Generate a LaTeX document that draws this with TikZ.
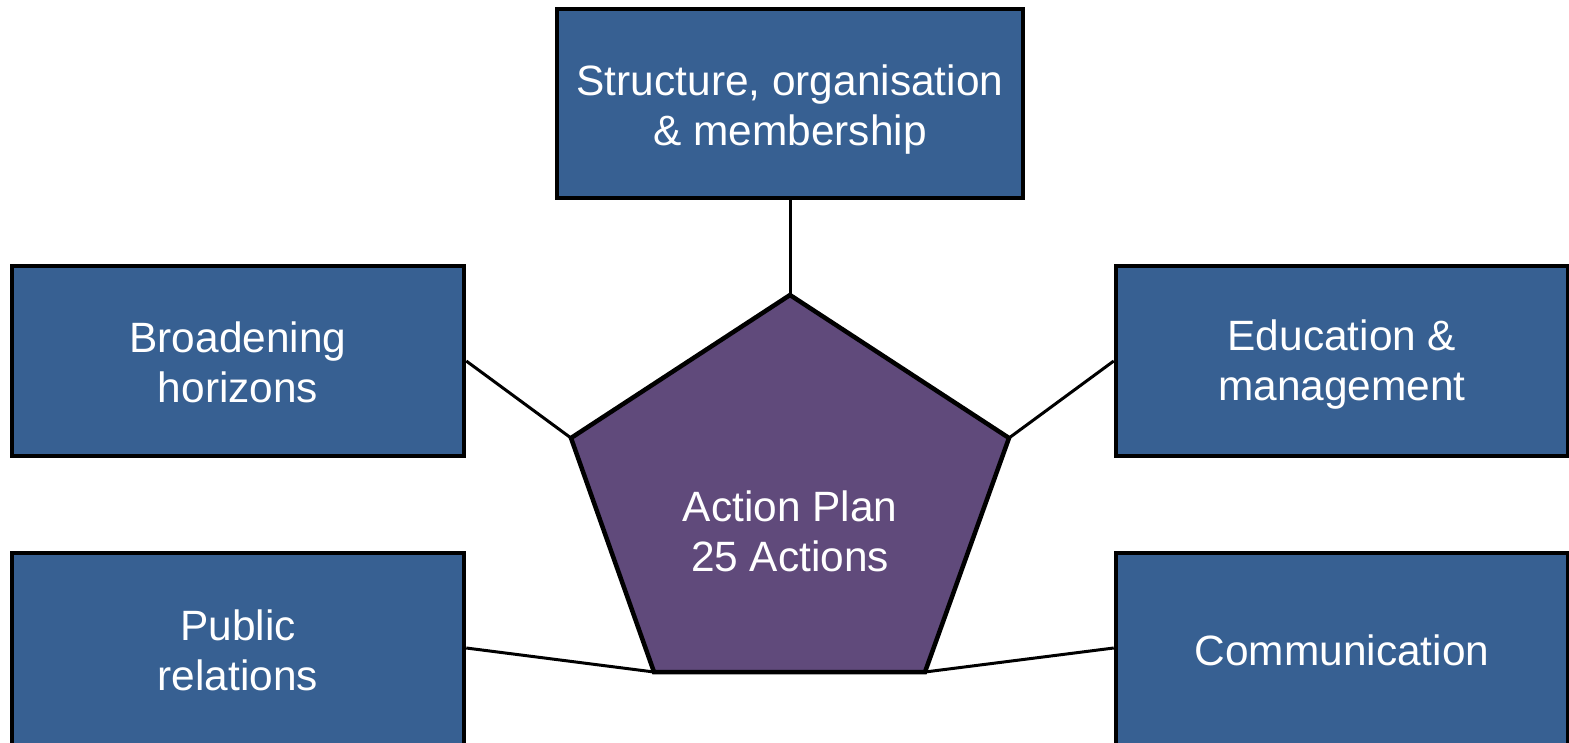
\documentclass[tikz,border=0pt]{standalone}
\usepackage{fontspec}
\setmainfont{Liberation Sans}
\definecolor{boxblue}{RGB}{55,96,146}
\definecolor{penta}{RGB}{96,74,123}
\begin{document}
\begin{tikzpicture}[x=1pt,y=-1pt,
  topic/.style={draw=black,line width=4.5pt,fill=boxblue,
    minimum width=452pt,minimum height=190pt,inner sep=0pt},
  link/.style={draw=black,line width=3pt},
  lbl/.style={text=white,align=center,inner sep=0pt,font=\fontsize{42.4}{50}\selectfont}]
\useasboundingbox (0,0) rectangle (1569,743);
\clip (0,0) rectangle (1569,743);
% pentagon corners
\coordinate (p1) at (790,295);
\coordinate (p2) at (1009,438);
\coordinate (p3) at (925,672);
\coordinate (p4) at (654,672);
\coordinate (p5) at (571,438);
% boxes
\node[topic,minimum width=466pt,minimum height=189pt] (top) at (790,103.5) {};
\node[topic] (lt) at (238,361) {};
\node[topic] (rt) at (1342,361) {};
\node[topic,minimum height=220pt] (lb) at (238,663) {};
\node[topic,minimum height=220pt] (rb) at (1342,663) {};
\node[lbl] (toptext) at ([yshift=-6pt]top.center) {Structure, organisation\\\& membership};
\node[lbl] (lttext) at ([yshift=-1pt]lt.center) {Broadening\\horizons};
\node[lbl] (rttext) at ([yshift=-4pt]rt.center) {Education \&\\management};
\node[lbl] (lbtext) at (238,650) {Public\\relations};
\node[lbl] (rbtext) at (1342,650) {Communication};
% connectors
\draw[link] (top.south) -- (p1);
\draw[link] (lt.east) -- (p5);
\draw[link] (rt.west) -- (p2);
\draw[link] (lb.east |- 0,648) coordinate (lbc) -- (p4);
\draw[link] (rb.west |- 0,648) coordinate (rbc) -- (p3);
% pentagon
\draw[line width=4.5pt,fill=penta,line join=miter] (p1) -- (p2) -- (p3) -- (p4) -- (p5) -- cycle;
\node[lbl] (ap) at (790,531) {Action Plan\\25 Actions};
\end{tikzpicture}
\end{document}
